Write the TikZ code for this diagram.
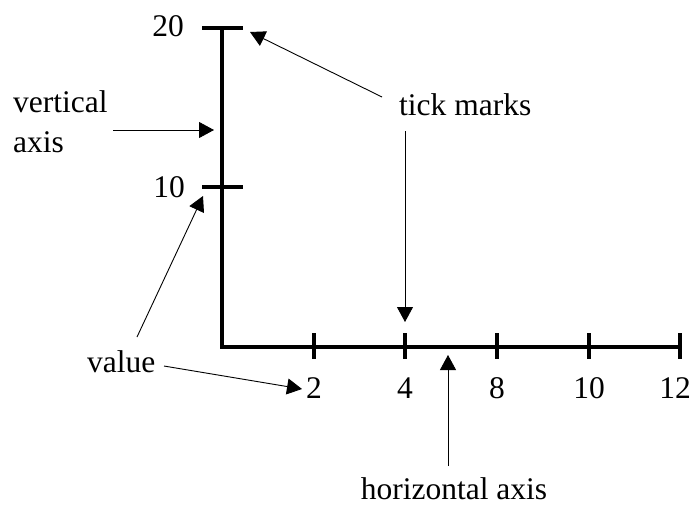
\documentclass[tikz,border=0pt]{standalone}
\usepackage{fontspec}
\setmainfont{Liberation Serif}
\usetikzlibrary{arrows.meta}
\begin{document}
\begin{tikzpicture}[x=1pt,y=-1pt,
  lbl/.style={inner sep=0pt,anchor=base,font=\fontsize{31.5}{38}\selectfont},
  axisline/.style={line width=3.4pt},
  tickline/.style={line width=3.4pt},
  pointer/.style={line width=0.9pt,-{Triangle[length=15pt,width=16pt]}}]
\useasboundingbox (0,0) rectangle (692,508);
% axis points
\coordinate (top) at (222,28);
\coordinate (orig) at (222,347);
\coordinate (xend) at (680,347);
\coordinate (yten) at (222,187);
% axes
\draw[axisline] (top) -- (orig) -- (xend);
% vertical ticks
\draw[tickline] (202,28) -- (243,28);
\draw[tickline] (202,187) -- (243,187);
% horizontal ticks
\foreach \xx in {314,405,497,589,680}
  \draw[tickline] (\xx,333) -- (\xx,359);
% tick labels
\node[lbl] (v20) at (168,37) {20};
\node[lbl] (v10) at (169,197) {10};
\node[lbl] (h2) at (314,398) {2};
\node[lbl] (h4) at (405,398) {4};
\node[lbl] (h8) at (497,398) {8};
\node[lbl] (h10) at (589,398) {10};
\node[lbl] (h12) at (675,398) {12};
% captions
\node[lbl,anchor=base west] (vert) at (13,113) {vertical};
\node[lbl,anchor=base west] (vaxis) at (13,152) {axis};
\node[lbl,anchor=base west] (ticks) at (399,115) {tick marks};
\node[lbl,anchor=base west] (value) at (87,372) {value};
\node[lbl] (haxis) at (454,499) {horizontal axis};
% arrow end points
\coordinate (a1s) at (113,130);
\coordinate (a1e) at (214,130);
\coordinate (a2s) at (382,97);
\coordinate (a2e) at (250,32);
\coordinate (a3s) at (405,131);
\coordinate (a3e) at (405,322);
\coordinate (a4s) at (137,337);
\coordinate (a4e) at (203,196);
\coordinate (a5s) at (164,366);
\coordinate (a5e) at (302,389);
\coordinate (a6s) at (448,466);
\coordinate (a6e) at (448,355);
% pointers
\draw[pointer] (a1s) -- (a1e);
\draw[pointer] (a2s) -- (a2e);
\draw[pointer] (a3s) -- (a3e);
\draw[pointer] (a4s) -- (a4e);
\draw[pointer] (a5s) -- (a5e);
\draw[pointer] (a6s) -- (a6e);
\end{tikzpicture}
\end{document}
